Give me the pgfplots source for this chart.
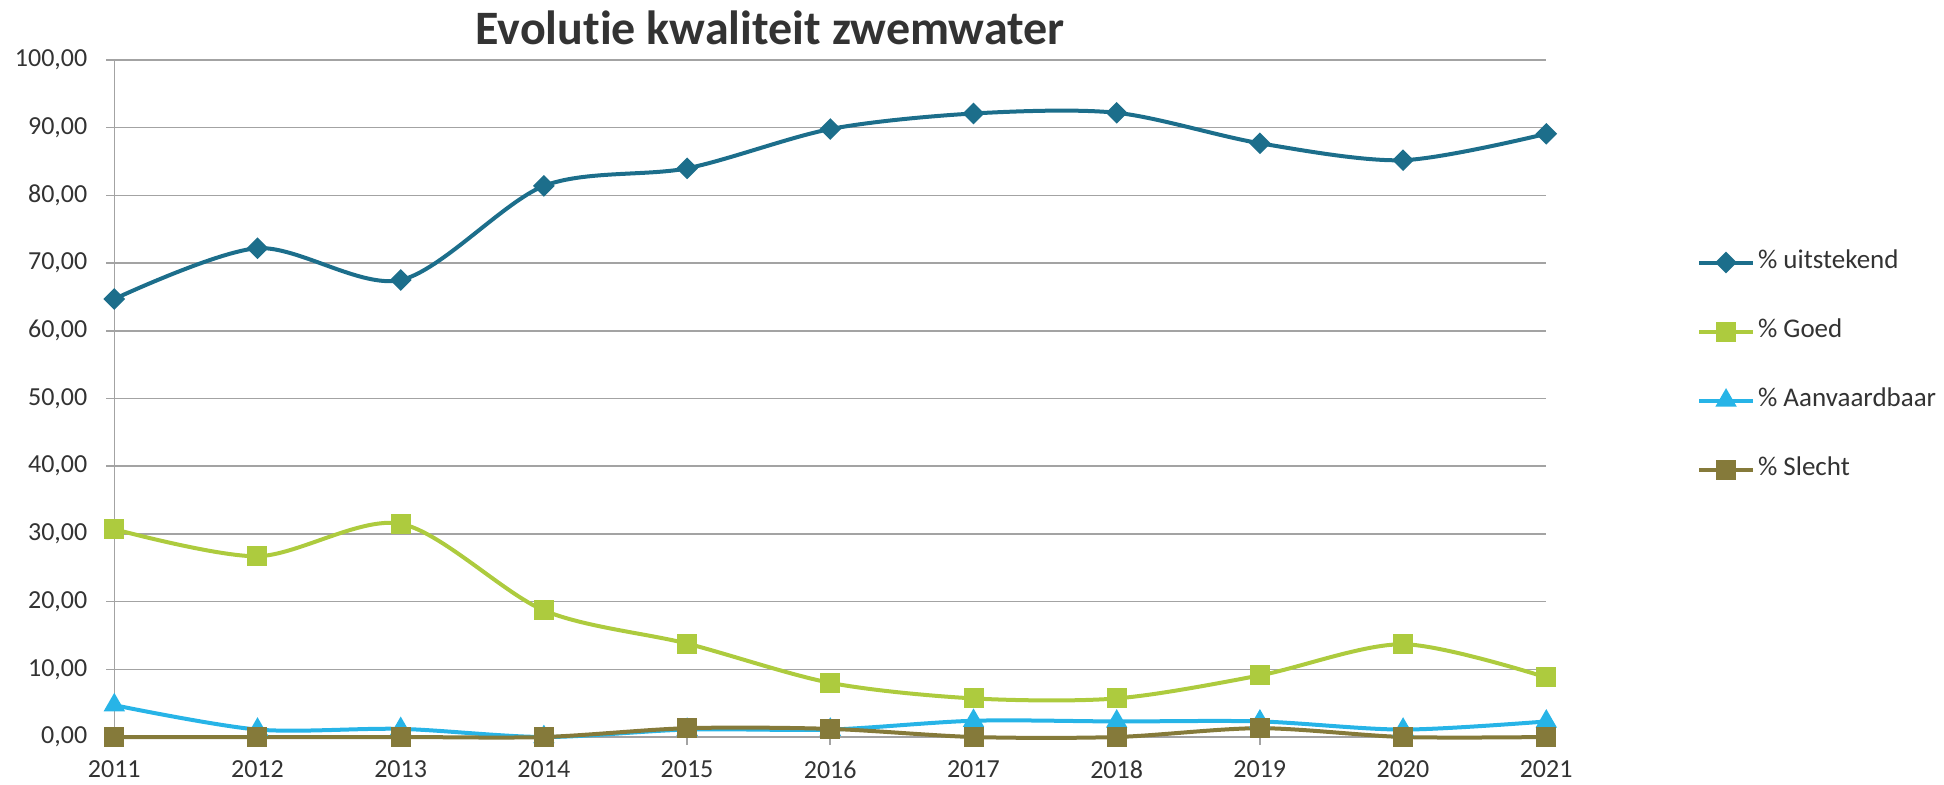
\documentclass[border=0pt]{standalone}
\usepackage{pgfplots}
\pgfplotsset{compat=1.18}
\usepackage{fontspec}
\setmainfont{Carlito}[Ligatures=NoCommon]
\definecolor{cU}{HTML}{1C6E8B}
\definecolor{cG}{HTML}{ADCB3E}
\definecolor{cA}{HTML}{27B4E7}
\definecolor{cS}{HTML}{857A3A}
\definecolor{txt}{HTML}{333333}
\definecolor{gridc}{HTML}{A3A3A3}
\begin{document}
\begin{tikzpicture}
\path[use as bounding box] (-57.15pt,-23.5pt) rectangle (914.85pt,368.5pt);
\begin{axis}[
  at={(0,0)}, anchor=south west,
  scale only axis, width=716pt, height=338.5pt,
  xmin=2011, xmax=2021, ymin=0, ymax=100,
  xtick={2011,2012,...,2021}, ytick={0,10,...,100},
  axis x line*=bottom, axis y line*=left,
  axis line style={draw=gridc, line width=0.75pt},
  tick style={draw=gridc, line width=0.75pt},
  tick align=outside, major tick length=4pt,
  ymajorgrids, grid style={draw=gridc, line width=0.75pt},
  clip=false,
  /pgf/number format/assume math mode=true,
  tick label style={font=\fontsize{13}{15}\selectfont, text=txt},
  xticklabel style={/pgf/number format/1000 sep={}, yshift=-4.5pt},
  yticklabel style={xshift=-6pt, /pgf/number format/fixed, /pgf/number format/fixed zerofill, /pgf/number format/precision=2, /pgf/number format/use comma, /pgf/number format/1000 sep={}},
  title={Evolutie kwaliteit zwemwater},
  title style={at={(0.458,1)}, anchor=base, yshift=2pt, font=\fontsize{24}{28}\bfseries\selectfont, text=txt},
  legend style={at={(1.105,0.548)}, anchor=west, draw=none, fill=none, inner sep=0pt,
    font=\fontsize{13.5}{15}\selectfont, text=txt,
    nodes={inner sep=1.5pt, text height=9pt, text depth=3pt},
    row sep=19.5pt},
  legend cell align=left,
  legend image code/.code={\draw[mark repeat=2,mark phase=2] plot coordinates {(0pt,0pt) (13.5pt,0pt) (27pt,0pt)};},
  every axis plot/.append style={line width=2pt, smooth, tension=0.5},
]
\addplot[cU, mark=square*, mark size=2.83pt, mark options={rotate=45, solid}] coordinates {
(2011,64.7) (2012,72.2) (2013,67.5) (2014,81.4) (2015,84.0) (2016,89.8) (2017,92.1) (2018,92.2) (2019,87.7) (2020,85.2) (2021,89.1)};
\addlegendentry{\% uitstekend}
\addplot[cG, mark=square*, mark size=4pt] coordinates {
(2011,30.7) (2012,26.7) (2013,31.5) (2014,18.7) (2015,13.8) (2016,8.0) (2017,5.7) (2018,5.7) (2019,9.1) (2020,13.7) (2021,8.8)};
\addlegendentry{\% Goed}
\addplot[cA, mark=triangle*, mark size=4.2pt] coordinates {
(2011,4.7) (2012,1.1) (2013,1.2) (2014,0.0) (2015,1.1) (2016,1.1) (2017,2.4) (2018,2.3) (2019,2.3) (2020,1.1) (2021,2.3)};
\addlegendentry{\% Aanvaardbaar}
\addplot[cS, mark=square*, mark size=4pt] coordinates {
(2011,0) (2012,0) (2013,0) (2014,0) (2015,1.3) (2016,1.2) (2017,0) (2018,0) (2019,1.3) (2020,0) (2021,0)};
\addlegendentry{\% Slecht}
\end{axis}
\end{tikzpicture}
\end{document}
